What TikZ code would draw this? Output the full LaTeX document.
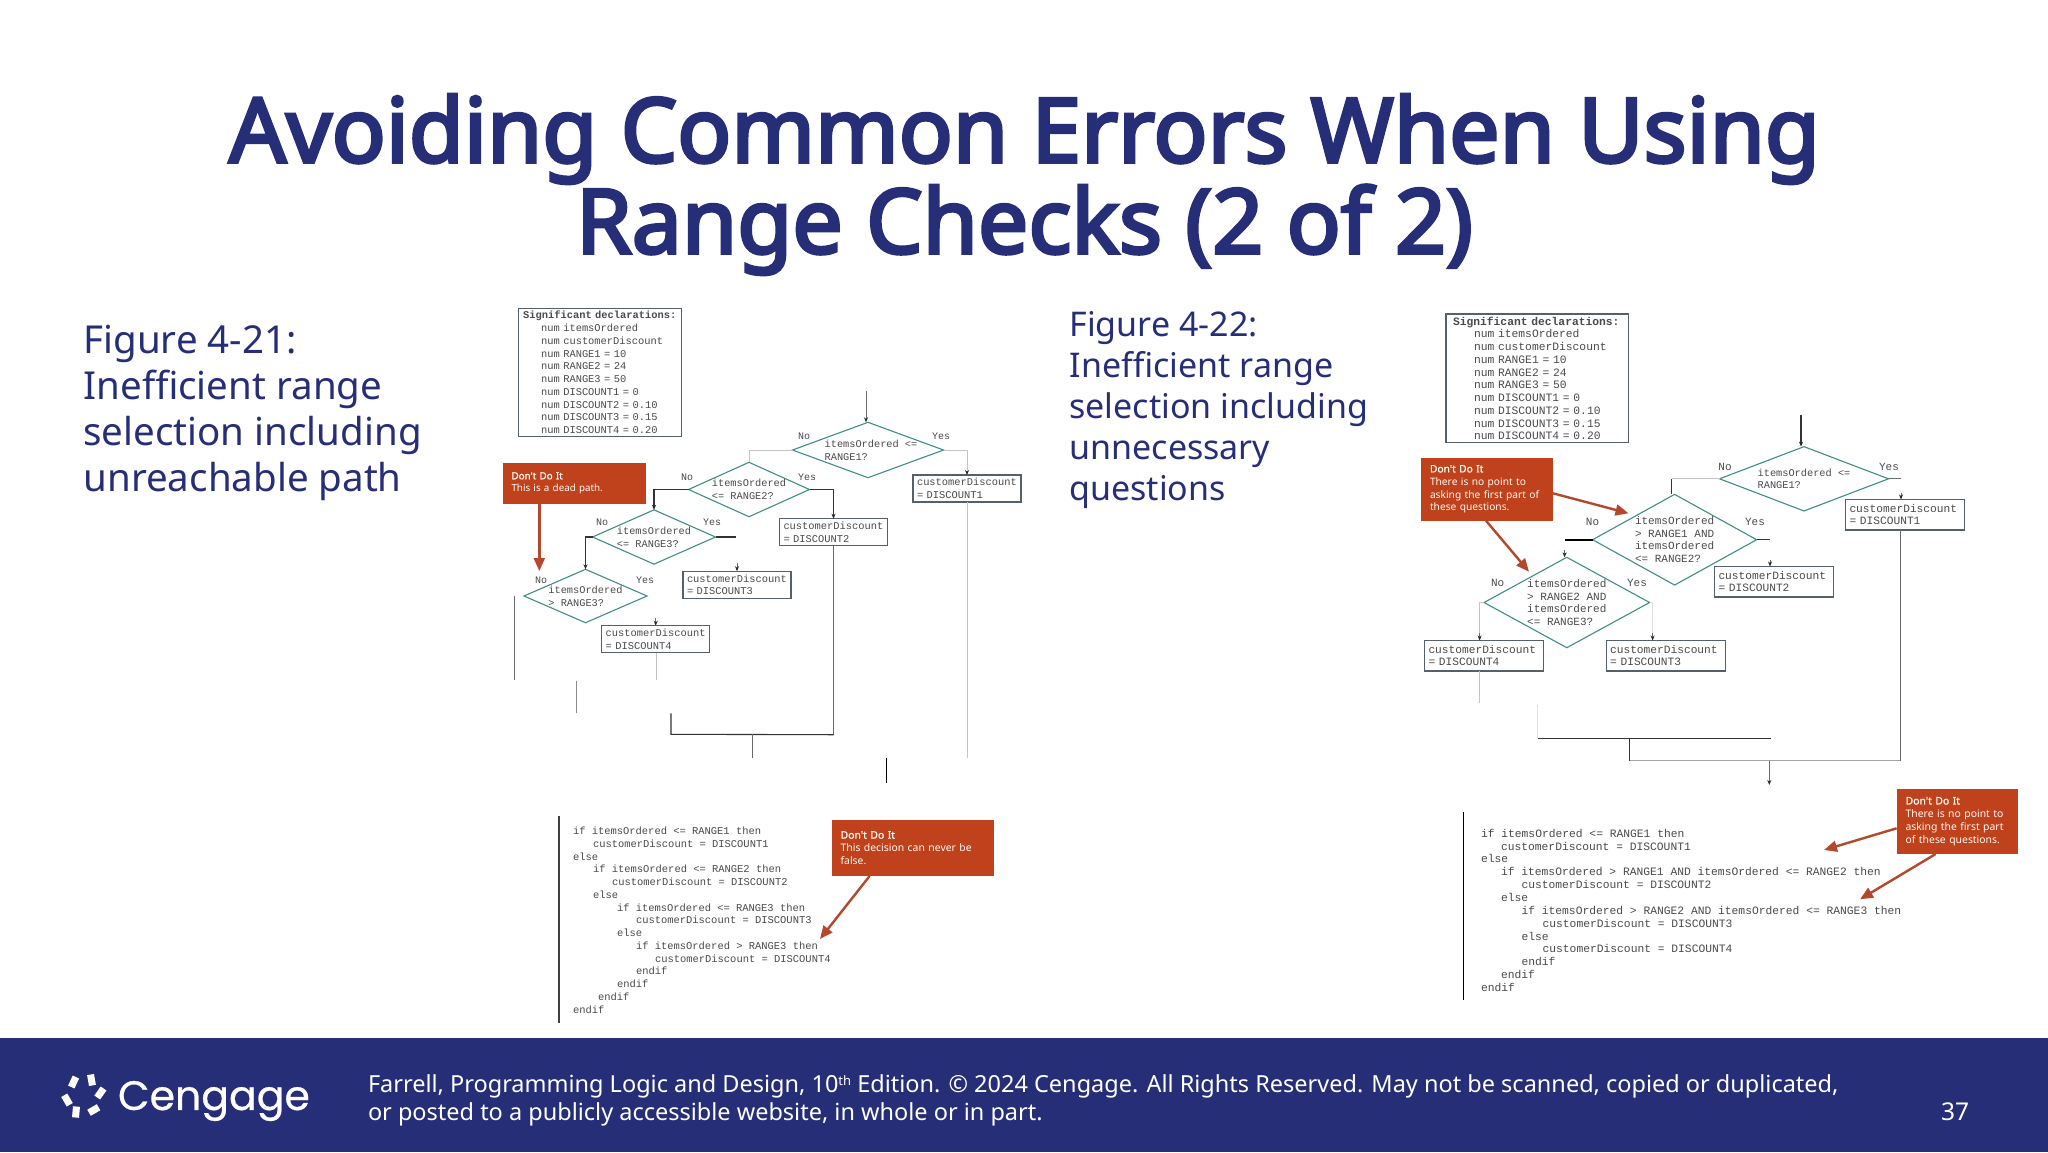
\documentclass[tikz,border=0pt]{standalone}
\usepackage{fontspec}
\setmainfont{Noto Sans}
\newfontfamily\titlefont[FakeBold=3.6]{Noto Sans}
\newfontfamily\calloutbold[FakeBold=1.2]{Noto Sans}
\newfontfamily\mono{Liberation Mono}
\newfontfamily\logofont[FakeBold=0.6]{Poppins}
\usetikzlibrary{shapes.geometric,arrows.meta,calc}
\definecolor{navy}{HTML}{272E78}
\definecolor{calloutred}{HTML}{C0421C}
\definecolor{arrowred}{HTML}{B4482C}
\definecolor{teal1}{HTML}{3F8F86}
\definecolor{ink}{HTML}{4A4A4A}
\definecolor{boxline}{HTML}{55606A}
\definecolor{midgrey}{HTML}{6A6A6A}
\definecolor{faintgrey}{HTML}{C4C4C4}
\newcommand{\ind}[1]{\hspace*{#1pt}}
\newcommand{\dontdo}{{\calloutbold Don't Do It}}
\tikzset{
  x=1pt,y=-1pt,
  every node/.style={inner sep=0pt,outer sep=0pt},
  titletext/.style={text=navy,font=\titlefont\fontsize{89.5}{91}\selectfont,align=center},
  bodya/.style={text=navy,anchor=north west,align=left,font=\fontsize{38.5}{46}\selectfont},
  bodyb/.style={text=navy,anchor=north west,align=left,font=\fontsize{34}{41}\selectfont},
  foot/.style={text=white,anchor=west,align=left,font=\fontsize{23.5}{28.5}\selectfont},
  declbox/.style={draw=boxline,line width=1.2pt,fill=white,text=ink,align=left,anchor=north west},
  decla/.style={declbox,inner xsep=4.5pt,inner ysep=3pt,text width=154pt,font=\mono\fontsize{10.4}{12.73}\selectfont},
  declb/.style={declbox,inner xsep=7pt,inner ysep=2.7pt,text width=168.5pt,font=\mono\fontsize{11.3}{12.77}\selectfont},
  deci/.style={diamond,draw=teal1,line width=1.1pt,fill=white,aspect=2},
  dectxta/.style={text=ink,align=left,font=\mono\fontsize{10.3}{12.8}\selectfont},
  dectxtb/.style={text=ink,align=left,font=\mono\fontsize{11}{12.6}\selectfont},
  flowa/.style={draw=boxline,line width=1.2pt,fill=white,text=ink,inner xsep=4pt,text width=100pt,minimum height=27pt,align=left,font=\mono\fontsize{10.4}{12.7}\selectfont},
  flowb/.style={draw=boxline,line width=1.2pt,fill=white,text=ink,inner xsep=4pt,text width=111pt,minimum height=30.5pt,align=left,font=\mono\fontsize{11.2}{12.3}\selectfont},
  yn/.style={text=ink,font=\mono\fontsize{10}{12}\selectfont},
  ynb/.style={text=ink,font=\mono\fontsize{11}{12}\selectfont},
  strong/.style={draw=black!80,line width=1.1pt},
  midline/.style={draw=midgrey,line width=1pt},
  faint/.style={draw=faintgrey,line width=.9pt},
  tip/.style={-{Stealth[length=5pt,width=4pt,color=black!85]}},
  callout/.style={fill=calloutred,text=white!94!orange,inner xsep=9pt,align=left},
  redarrow/.style={draw=arrowred,line width=2.4pt,-{Triangle[length=13pt,width=11pt,color=arrowred]}},
  code/.style={text=ink,anchor=north west,align=left},
  codea/.style={code,font=\mono\fontsize{10.45}{12.75}\selectfont},
  codeb/.style={code,font=\mono\fontsize{11.3}{12.85}\selectfont},
  petal/.style={fill=white,draw=none,minimum width=11pt,minimum height=7pt}
}
\begin{document}
\begin{tikzpicture}
\useasboundingbox (0,0) rectangle (2048,1152);
\fill[white] (0,0) rectangle (2048,1152);

% ---------- title and side text
\node[titletext] (title) at (1024.5,184.5) {Avoiding Common Errors When Using\\Range Checks (2 of 2)};
\node[bodya] (figa) at (83.5,325) {Figure 4-21:\\Inefficient range\\selection including\\unreachable path};
\node[bodyb] (figb) at (1069.5,311) {Figure 4-22:\\Inefficient range\\selection including\\unnecessary\\questions};

% ---------- figure 4-21: declarations
\node[decla] (decla) at (518.6,308.3) {\bfseries Significant declarations:\\
\mdseries\ind{18}num itemsOrdered\\ \ind{18}num customerDiscount\\ \ind{18}num RANGE1 = 10\\ \ind{18}num RANGE2 = 24\\ \ind{18}num RANGE3 = 50\\ \ind{18}num DISCOUNT1 = 0\\ \ind{18}num DISCOUNT2 = 0.10\\ \ind{18}num DISCOUNT3 = 0.15\\ \ind{18}num DISCOUNT4 = 0.20};

% ---------- figure 4-21: decisions
\node[deci,minimum width=151pt,minimum height=55.4pt] (a1) at (868,450) {};
\node[dectxta,xshift=3pt] (a1t) at (a1) {itemsOrdered <=\\RANGE1?};
\node[deci,minimum width=121pt,minimum height=54.4pt] (a2) at (749,489.5) {};
\node[dectxta] (a2t) at (a2) {itemsOrdered\\<= RANGE2?};
\node[deci,minimum width=123pt,minimum height=54.3pt] (a3) at (654,537) {};
\node[dectxta] (a3t) at (a3) {itemsOrdered\\<= RANGE3?};
\node[deci,minimum width=123pt,minimum height=53.4pt] (a4) at (585.5,596) {};
\node[dectxta] (a4t) at (a4) {itemsOrdered\\> RANGE3?};

% ---------- figure 4-21: process boxes
\node[flowa] (b1) at (967,488.5) {customerDiscount\\= DISCOUNT1};
\node[flowa] (b2) at (833.5,532.2) {customerDiscount\\= DISCOUNT2};
\node[flowa] (b3) at (737,584.7) {customerDiscount\\= DISCOUNT3};
\node[flowa] (b4) at (655.7,639.2) {customerDiscount\\= DISCOUNT4};

% ---------- figure 4-21: yes / no
\node[yn] (an1) at (804,436.7) {No};  \node[yn] (ay1) at (941,436.7) {Yes};
\node[yn] (an2) at (687,477.7) {No};  \node[yn] (ay2) at (807,477.7) {Yes};
\node[yn] (an3) at (602,522.7) {No};  \node[yn] (ay3) at (712,522.7) {Yes};
\node[yn] (an4) at (541,580) {No};    \node[yn] (ay4) at (645,580) {Yes};

% ---------- figure 4-21: connector pieces
\coordinate (atop) at (866,390.7);
\draw[midline,tip] (atop) -- (a1.north -| atop);
\draw[faint] (a1.west) -| (a2.north);
\draw[faint,tip] (a1.east) -| (b1.north);
\draw[faint] (b1.south) -- ++(0,256) coordinate (bonedown);
\draw[strong,tip] (a2.east) -| (b2.north);
\draw[strong,tip] (a2.west) -| (a3.north);
\draw[midline] (b2.south) -- ++(0,189) coordinate (amergeR);
\coordinate (amergeL) at (671,734.3);
\coordinate (amergeLtop) at (671,713.3);
\draw[strong] (amergeLtop) -- (amergeL) -- (amergeR);
\coordinate (amergeM) at (752,734.3);
\coordinate (amergeD) at (752,757.7);
\draw[midline] (amergeM) -- (amergeD);
\coordinate (astubA) at (886.4,757.7);
\coordinate (astubB) at (886.4,782.7);
\draw[black,line width=1.4pt] (astubA) -- (astubB);
\coordinate (a3r) at (736.4,537);
\draw[strong] (a3.east) -- (a3r);
\coordinate (a3g) at (737,563);
\draw[midline,tip] (a3g) -- (b3.north);
\draw[strong,tip] (a3.west) -| (a4.north);
\coordinate (a4g) at (655.7,618);
\draw[midline,tip] (a4g) -- (b4.north);
\coordinate (b4d) at (656.4,680);
\draw[faint] (b4.south -| b4d) -- (b4d);
\coordinate (lineaT) at (514,596);
\coordinate (lineaB) at (514,680);
\draw[midline] (lineaT) -- (lineaB);
\coordinate (linebT) at (576,680.7);
\coordinate (linebB) at (576,712.7);
\draw[draw=black!45,line width=1pt] (linebT) -- (linebB);

% ---------- figure 4-21: callouts
\node[callout,text width=125.5pt,minimum height=41.3pt,font=\fontsize{9.8}{12.7}\selectfont] (ca) at (574.25,483.3) {\dontdo\\This is a dead path.};
\coordinate (catip) at (539.3,571);
\draw[redarrow] (ca.south -| catip) -- (catip);

\node[codea] (pa) at (573,827) {if itemsOrdered <= RANGE1 then\\
\ind{20}customerDiscount = DISCOUNT1\\
else\\
\ind{20}if itemsOrdered <= RANGE2 then\\
\ind{39}customerDiscount = DISCOUNT2\\
\ind{20}else\\
\ind{44}if itemsOrdered <= RANGE3 then\\
\ind{63}customerDiscount = DISCOUNT3\\
\ind{44}else\\
\ind{63}if itemsOrdered > RANGE3 then\\
\ind{82}customerDiscount = DISCOUNT4\\
\ind{63}endif\\
\ind{44}endif\\
\ind{25}endif\\
endif};
\coordinate (paT) at (559,816);
\coordinate (paB) at (559,1023);
\draw[draw=black!75,line width=1.5pt] (paT) -- (paB);
\node[callout,text width=144.5pt,minimum height=56pt,font=\fontsize{10.4}{13}\selectfont] (cb) at (912.85,848) {\dontdo\\This decision can never be\\false.};
\coordinate (cbs) at ($(cb.south west)+(38,0)$);
\coordinate (cbtip) at (820,939);
\draw[redarrow] (cbs) -- (cbtip);

% ---------- figure 4-22: declarations
\node[declb] (declb) at (1446,314) {\bfseries Significant declarations:\\
\mdseries\ind{21}num itemsOrdered\\ \ind{21}num customerDiscount\\ \ind{21}num RANGE1 = 10\\ \ind{21}num RANGE2 = 24\\ \ind{21}num RANGE3 = 50\\ \ind{21}num DISCOUNT1 = 0\\ \ind{21}num DISCOUNT2 = 0.10\\ \ind{21}num DISCOUNT3 = 0.15\\ \ind{21}num DISCOUNT4 = 0.20};

% ---------- figure 4-22: decisions
\node[deci,minimum width=169pt,minimum height=64.3pt] (d1) at (1804,478.8) {};
\node[dectxta] (d1t) at (d1) {itemsOrdered <=\\RANGE1?};
\node[deci,minimum width=164pt,minimum height=90.7pt] (d2) at (1674.6,539.7) {};
\node[dectxtb] (d2t) at (d2) {itemsOrdered\\> RANGE1 AND\\itemsOrdered\\<= RANGE2?};
\node[deci,minimum width=165.5pt,minimum height=90.4pt] (d3) at (1566.8,602.5) {};
\node[dectxtb] (d3t) at (d3) {itemsOrdered\\> RANGE2 AND\\itemsOrdered\\<= RANGE3?};

% ---------- figure 4-22: process boxes
\node[flowb] (e1) at (1905,514.7) {customerDiscount\\= DISCOUNT1};
\node[flowb] (e2) at (1774,581.7) {customerDiscount\\= DISCOUNT2};
\node[flowb] (e3) at (1484,655.7) {customerDiscount\\= DISCOUNT4};
\node[flowb] (e4) at (1665.6,655.7) {customerDiscount\\= DISCOUNT3};

% ---------- figure 4-22: yes / no
\node[ynb] (dn1) at (1725,466.7) {No};    \node[ynb] (dy1) at (1889,466.7) {Yes};
\node[ynb] (dn2) at (1592.5,521.7) {No};  \node[ynb] (dy2) at (1755,521.7) {Yes};
\node[ynb] (dn3) at (1497.6,582.7) {No};  \node[ynb] (dy3) at (1637,582.7) {Yes};

% ---------- figure 4-22: connector pieces
\coordinate (dtop) at (1801,415);
\draw[strong,tip] (dtop) -- (d1.north -| dtop);
\coordinate (d1l) at (1671.7,478.8);
\draw[faint] (d1.west) -- (d1l);
\draw[strong] (d1l) -- (d2.north -| d1l);
\coordinate (d1r) at (1901,478.8);
\draw[midline] (d1.east) -- (d1r);
\coordinate (d1g) at (1901,492.7);
\draw[midline,tip] (d1g) -- (e1.north -| d1g);
\coordinate (d2r) at (1770,539.7);
\draw[strong] (d2.east) -- (d2r);
\coordinate (d2g) at (1770,560);
\draw[midline,tip] (d2g) -- (e2.north -| d2g);
\coordinate (d2l) at (1564.6,539.7);
\draw[black,line width=1.6pt] (d2.west) -- (d2l);
\coordinate (d2g2) at (1564.6,550);
\draw[midline,tip] (d2g2) -- (d3.north -| d2g2);
\coordinate (d3l) at (1479.6,602.5);
\coordinate (d3gl) at (1479.6,633);
\draw[faint] (d3.west) -- (d3l) -- (d3gl);
\draw[midline,tip] (d3gl) -- (e3.north -| d3gl);
\coordinate (d3r) at (1652.6,602.5);
\coordinate (d3gr) at (1652.6,633);
\draw[draw=black!12,line width=.9pt] (d3.east) -- (d3r) -- (d3gr);
\draw[midline,tip] (d3gr) -- (e4.north -| d3gr);
\coordinate (e3d) at (1479.6,703.3);
\draw[faint] (e3.south -| e3d) -- (e3d);
\coordinate (stubT) at (1537.8,705);
\coordinate (mergeL) at (1537.8,738.3);
\coordinate (mergeR) at (1770.5,738.3);
\draw[draw=black!12,line width=.9pt] (stubT) -- (mergeL);
\draw[strong] (mergeL) -- (mergeR);
\coordinate (mergeM) at (1629.6,738.3);
\coordinate (mergeN) at (1629.6,760.7);
\draw[strong] (mergeM) -- (mergeN);
\coordinate (mergeE) at (1900.6,760.7);
\draw[draw=black!35,line width=1pt] (mergeN) -- (mergeE);
\draw[midline] (e1.south -| mergeE) -- (mergeE);
\coordinate (outA) at (1769.3,760.7);
\coordinate (outB) at (1769.3,785);
\draw[midline,tip] (outA) -- (outB);

% ---------- figure 4-22: callouts
\node[callout,text width=114pt,minimum height=63pt,font=\fontsize{10.2}{12.8}\selectfont] (cc) at (1487,489.2) {\dontdo\\There is no point to\\asking the first part of\\these questions.};
\coordinate (ccs) at ($(cc.south east)+(0,-27.4)$);
\coordinate (cctip) at (1628.5,513.3);
\draw[redarrow] (ccs) -- (cctip);
\coordinate (ccs2) at ($(cc.south west)+(65,0)$);
\coordinate (cctip2) at (1529,571.7);
\draw[redarrow] (ccs2) -- (cctip2);

\node[codeb] (pb) at (1481,829) {if itemsOrdered <= RANGE1 then\\
\ind{20}customerDiscount = DISCOUNT1\\
else\\
\ind{20}if itemsOrdered > RANGE1 AND itemsOrdered <= RANGE2 then\\
\ind{40.5}customerDiscount = DISCOUNT2\\
\ind{20}else\\
\ind{40.5}if itemsOrdered > RANGE2 AND itemsOrdered <= RANGE3 then\\
\ind{61.6}customerDiscount = DISCOUNT3\\
\ind{40.5}else\\
\ind{61.6}customerDiscount = DISCOUNT4\\
\ind{40.5}endif\\
\ind{20}endif\\
endif};
\coordinate (pbT) at (1463.7,812.3);
\coordinate (pbB) at (1463.7,1000);
\draw[black,line width=1.5pt] (pbT) -- (pbB);
\node[callout,text width=103.4pt,minimum height=65pt,font=\fontsize{10.4}{13}\selectfont] (cd) at (1957.3,821.5) {\dontdo\\There is no point to\\asking the first part\\of these questions.};
\coordinate (cds) at ($(cd.south west)+(0,-25.7)$);
\coordinate (cdtip) at (1824,850);
\draw[redarrow] (cds) -- (cdtip);
\coordinate (cds2) at ($(cd.south west)+(39,0)$);
\coordinate (cdtip2) at (1860,899.3);
\draw[redarrow] (cds2) -- (cdtip2);

% ---------- footer bar
\fill[navy] (0,1037.5) rectangle (2048,1152);
\node[petal,rotate=65]  (l1) at (73.6,1082) {};
\node[petal,rotate=100] (l2) at (91.5,1080) {};
\node[petal,rotate=55]  (l3) at (100.4,1093) {};
\node[petal,rotate=120] (l4) at (67,1100) {};
\node[petal,rotate=85]  (l5) at (76,1112) {};
\node[petal,rotate=30]  (l6) at (93.8,1110) {};
\node[text=white,anchor=west,font=\logofont\fontsize{41}{42}\selectfont] (logo) at (118,1101) {Cengage};
\node[foot] (cr) at (368,1100.5) {Farrell, Programming Logic and Design, 10\raisebox{7pt}{\fontsize{13}{13}\selectfont th} Edition. © 2024 Cengage. All Rights Reserved. May not be scanned, copied or duplicated,\\or posted to a publicly accessible website, in whole or in part.};
\node[text=white,font=\fontsize{24.5}{28}\selectfont] (pageno) at (1955,1112) {37};
\end{tikzpicture}
\end{document}
